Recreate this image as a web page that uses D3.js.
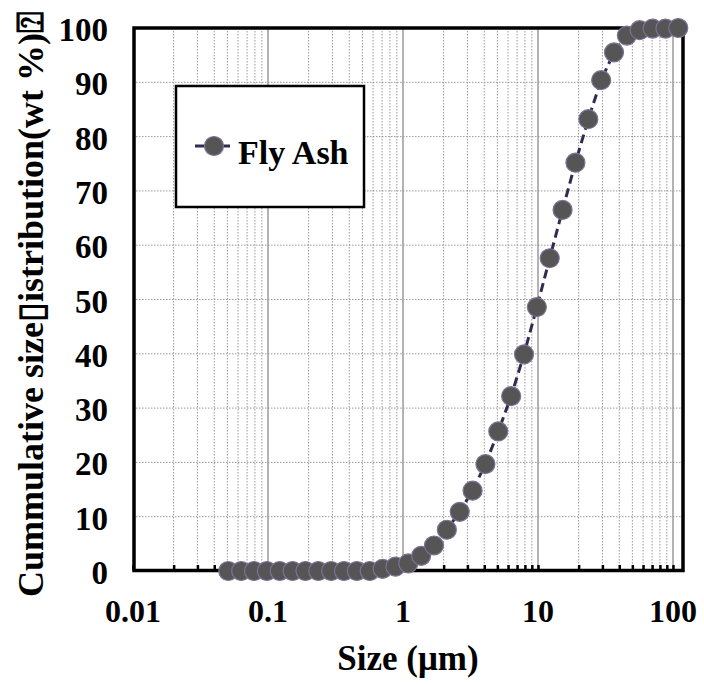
<!DOCTYPE html>
<html>
<head>
<meta charset="utf-8">
<script src="https://cdn.jsdelivr.net/npm/d3@7"></script>
<style>
  html, body { margin: 0; padding: 0; background: #fff; }
  svg { display: block; }
  text { font-family: "Liberation Serif", "Times New Roman", serif; font-weight: bold; fill: #000; }
</style>
</head>
<body>
<svg id="chart" width="704" height="684"></svg>
<script>
// Particle size (µm) and cumulative passing (wt %)
const sizes = [0.0508, 0.0633, 0.0788, 0.0981, 0.1221, 0.1521, 0.1894, 0.2358, 0.2936, 0.3656,
  0.4552, 0.5668, 0.7058, 0.879, 1.0944, 1.3627, 1.6968, 2.113, 2.631, 3.2766,
  4.08, 5.08, 6.3256, 7.8772, 9.808, 12.213, 15.205, 18.935, 23.58, 29.36,
  36.56, 45.52, 56.67, 70.59, 87.89, 109.4];
const cumulative = [0, 0, 0, 0, 0, 0, 0, 0, 0, 0,
  0, 0, 0.4, 0.8, 1.4, 2.8, 4.7, 7.6, 10.9, 14.8,
  19.7, 25.7, 32.2, 39.9, 48.6, 57.6, 66.5, 75.2, 83.2, 90.4,
  95.5, 98.6, 99.6, 99.9, 99.9, 100];
const seriesName = "Fly Ash";
const xTickLabels = ["0.01", "0.1", "1", "10", "100"];
const yTickValues = [0, 10, 20, 30, 40, 50, 60, 70, 80, 90, 100];
const xTitle = "Size (\u03bcm)";
const yTitle = "Cummulative size\u25AFistribution(wt %)\u2370";

const svg = d3.select("#chart");
const plot = { left: 133, right: 683, top: 28, bottom: 571 };

const x = d3.scaleLog().domain([0.01, 118.6]).range([plot.left, plot.right]);
const y = d3.scaleLinear().domain([0, 100]).range([plot.bottom, plot.top]);

// minor positions 2..9 within each decade, and the decades themselves
const decades = xTickLabels.map(Number);
const minors = [];
decades.forEach(d => { for (let k = 2; k <= 9; k++) if (d * k < 118.6) minors.push(d * k); });

const grid = svg.append("g");
grid.selectAll("line.vminor").data(minors).join("line")
  .attr("x1", d => x(d)).attr("x2", d => x(d))
  .attr("y1", plot.top).attr("y2", plot.bottom)
  .attr("stroke", "#9a9a9a").attr("stroke-width", 1).attr("stroke-dasharray", "1.5,1.5");
grid.selectAll("line.vmajor").data(decades.slice(1)).join("line")
  .attr("x1", d => x(d)).attr("x2", d => x(d))
  .attr("y1", plot.top).attr("y2", plot.bottom)
  .attr("stroke", "#9a9a9a").attr("stroke-width", 1.5);
grid.selectAll("line.h").data(yTickValues.slice(1, -1)).join("line")
  .attr("x1", plot.left).attr("x2", plot.right)
  .attr("y1", d => y(d)).attr("y2", d => y(d))
  .attr("stroke", "#9a9a9a").attr("stroke-width", 1).attr("stroke-dasharray", "1.5,1.5");

// bottom axis: inward ticks on the log grid, labels at decades
const xAxis = d3.axisBottom(x).tickValues(minors.concat(decades)).tickSize(-5).tickFormat("");
svg.append("g").attr("transform", `translate(0,${plot.bottom - 1})`).call(xAxis)
  .call(g => g.select(".domain").remove())
  .call(g => g.selectAll(".tick line").attr("stroke", "#000").attr("stroke-width", 2.5));

svg.append("g").selectAll("text").data(xTickLabels).join("text")
  .attr("x", d => x(+d)).attr("y", 622)
  .attr("text-anchor", "middle").attr("font-size", 32).text(d => d);

svg.append("g").selectAll("text").data(yTickValues).join("text")
  .attr("x", 108).attr("y", d => y(d) + 13)
  .attr("text-anchor", "end").attr("font-size", 33).text(d => d);

// frame
svg.append("rect")
  .attr("x", plot.left + 1).attr("y", plot.top)
  .attr("width", plot.right - plot.left - 1).attr("height", plot.bottom - plot.top - 0.5)
  .attr("fill", "none").attr("stroke", "#000").attr("stroke-width", 3.5);

// series
const line = d3.line().x((d, i) => x(sizes[i])).y(d => y(d));
svg.append("path").datum(cumulative)
  .attr("d", line).attr("fill", "none")
  .attr("stroke", "#35294f").attr("stroke-width", 3).attr("stroke-dasharray", "9,5");

svg.append("g").selectAll("circle").data(cumulative).join("circle")
  .attr("cx", (d, i) => x(sizes[i])).attr("cy", d => y(d)).attr("r", 9.5)
  .attr("fill", "#555555").attr("stroke", "#7d7296").attr("stroke-width", 1.2);

// legend
const lg = svg.append("g");
lg.append("rect").attr("x", 176).attr("y", 86).attr("width", 188).attr("height", 121)
  .attr("fill", "#fff").attr("stroke", "#000").attr("stroke-width", 2.5);
lg.append("line").attr("x1", 195).attr("x2", 230).attr("y1", 146).attr("y2", 146)
  .attr("stroke", "#35294f").attr("stroke-width", 3);
lg.append("circle").attr("cx", 214).attr("cy", 146).attr("r", 9.5)
  .attr("fill", "#555555").attr("stroke", "#7d7296").attr("stroke-width", 1.2);
lg.append("text").attr("x", 238).attr("y", 164).attr("font-size", 34).text(seriesName);

// axis titles
svg.append("text").attr("x", (plot.left + plot.right) / 2).attr("y", 670)
  .attr("text-anchor", "middle").attr("font-size", 35).text(xTitle);
svg.append("text").attr("transform", "translate(43,304) rotate(-90)")
  .attr("text-anchor", "middle").attr("font-size", 36).text(yTitle);
</script>
</body>
</html>
